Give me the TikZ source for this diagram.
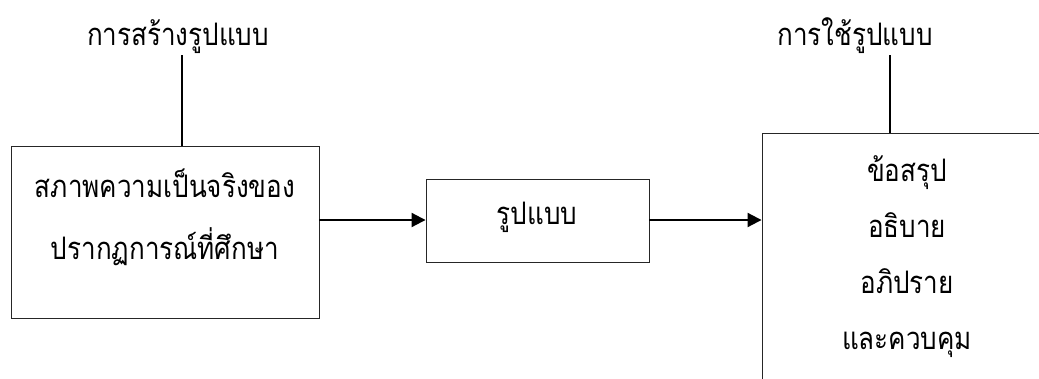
\documentclass[tikz,border=0pt]{standalone}
\usepackage{fontspec}
\newfontfamily\thaifont[Script=Thai, FakeStretch=0.84]{Loma}
\usetikzlibrary{arrows.meta}
\tikzset{
  box/.style={draw=black!85, line width=0.9pt, inner sep=0pt},
  thtext/.style={inner sep=0pt, align=center, font=\thaifont\fontsize{31}{56}\selectfont},
  link/.style={line width=2pt},
  flow/.style={link, -{Triangle[length=14pt,width=14pt]}}
}
\begin{document}
\begin{tikzpicture}[x=1pt,y=1pt,yscale=-1]
\useasboundingbox (0,0) rectangle (1039,378);
\clip (0,0) rectangle (1039,378);

% boxes
\node [box, minimum width=308pt, minimum height=172pt] (real) at (165,232) {};
\node [box, minimum width=223pt, minimum height=83pt] (model) at (537.5,220.5) {};
\node [box, minimum width=300pt, minimum height=270pt] (use) at (912,268) {};

% texts
\node [thtext] (build) at (178,37) {การสร้างรูปแบบ};
\node [thtext] (apply) at (855,36) {การใช้รูปแบบ};
\node [thtext, font=\thaifont\fontsize{31}{62}\selectfont] (realtxt) at (165,217) {สภาพความเป็นจริงของ\\ปรากฏการณ์ที่ศึกษา};
\node [thtext] (modeltxt) at (537,217) {รูปแบบ};
\node [thtext] (usetxt) at (907,257) {ข้อสรุป\\อธิบาย\\อภิปราย\\และควบคุม};

% connectors
\coordinate (buildend) at (182,55);
\coordinate (applyend) at (890,55);
\draw [link] (buildend) -- (buildend |- real.north);
\draw [link] (applyend) -- (applyend |- use.north);
\draw [flow] (real.east |- 0,220) -- (model.west |- 0,220);
\draw [flow] (model.east |- 0,220) -- (use.west |- 0,220);
\end{tikzpicture}
\end{document}
